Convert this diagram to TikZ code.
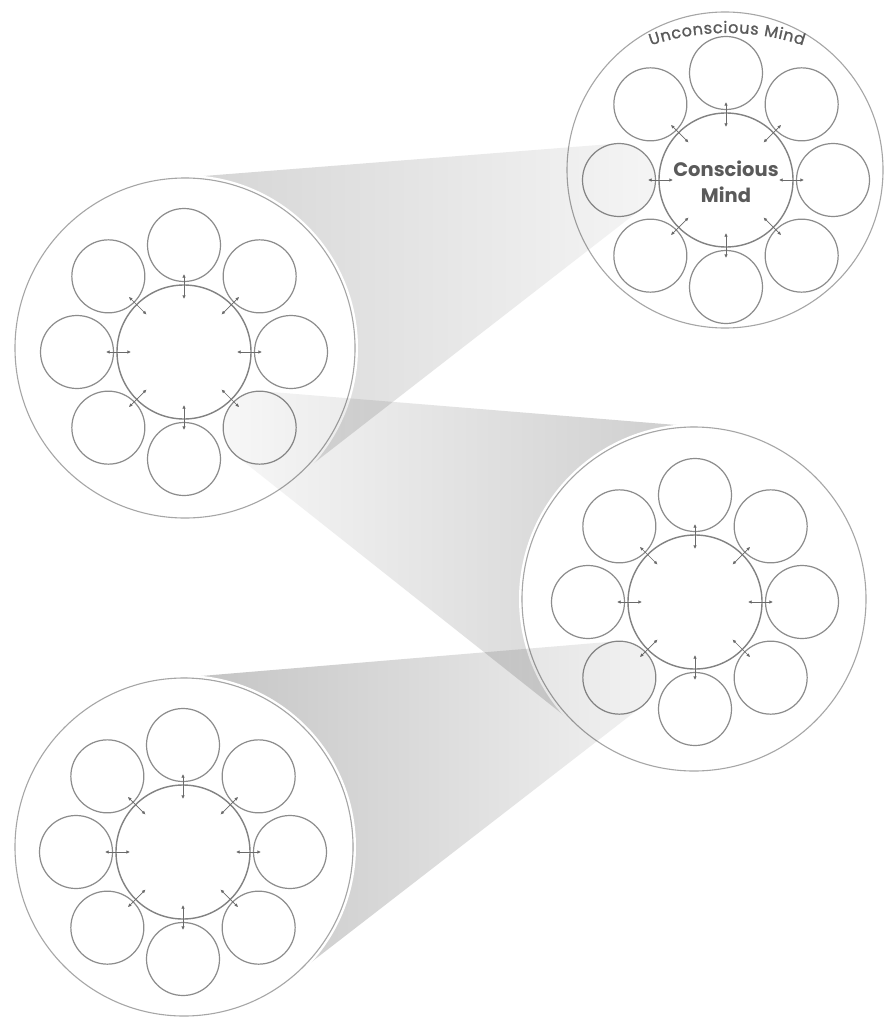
\documentclass[tikz,border=0pt]{standalone}
\usepackage{fontspec}
\newfontfamily\popfont{Poppins}
\newfontfamily\popmed{Poppins}[FakeBold=1.2]
\usetikzlibrary{calc,decorations.text,arrows.meta}
\definecolor{bigline}{HTML}{A6A6A6}
\definecolor{smallline}{HTML}{8C8C8C}
\definecolor{innerline}{HTML}{828282}
\definecolor{arrowc}{HTML}{6A6A6A}
\definecolor{txt}{HTML}{5A5A5A}
\tikzset{
  bigc/.style={circle, draw=bigline, line width=1.1pt, fill=white, inner sep=0pt},
  smallc/.style={circle, draw=smallline, line width=1.2pt, minimum size=73pt, inner sep=0pt},
  innerc/.style={circle, draw=innerline, line width=1.4pt, minimum size=134pt, inner sep=0pt},
  arr/.style={draw=arrowc, line width=0.7pt, {Latex[length=3.6pt,width=3.4pt]}-{Latex[length=3.6pt,width=3.4pt]}},
  halo/.style={draw=white, line width=2.6pt},
  beamfill/.style={blend mode=multiply},
}
\newcommand{\bigdisc}[4]{%
  \draw[halo] (#2,#3) circle[radius=#4+1.7];
  \node[bigc, minimum size=2*#4pt] (#1) at (#2,#3) {};
}
\newcommand{\mindring}[3]{%
  \coordinate (#1) at (#2,#3);
  \node[innerc] (#1c) at (#1) {};
  \foreach \a [count=\i] in {0,45,...,315}{
    \node[smallc] (#1s\i) at ($(#1)+(\a:107)$) {};
    \coordinate (#1p\i) at ($(#1)+(\a:53)$);
    \coordinate (#1q\i) at ($(#1)+(\a:78)$);
    \draw[arr] (#1p\i) -- (#1q\i);
  }
}
% #1,#2 big centre, #3 R, #4,#5 small centre, #6 r, #7 left colour, #8 right colour
\newcommand{\beam}[8]{%
  \pgfmathsetmacro{\bdx}{#4-(#1)}%
  \pgfmathsetmacro{\bdy}{#5-(#2)}%
  \pgfmathsetmacro{\bD}{veclen(\bdx,\bdy)}%
  \pgfmathsetmacro{\bphi}{atan2(\bdy,\bdx)}%
  \pgfmathsetmacro{\bth}{acos((#3-#6)/\bD)}%
  \pgfmathsetmacro{\ba}{\bphi+\bth}%
  \pgfmathsetmacro{\bb}{\bphi-\bth}%
  \shade[beamfill, left color=#7, right color=#8]
    ($(#1,#2)+(\ba:#3)$) -- ($(#4,#5)+(\ba:#6)$)
    arc[start angle=\ba, end angle=\bb, radius=#6]
    -- ($(#1,#2)+(\bb:#3)$) -- cycle;
}
\begin{document}
\begin{tikzpicture}[x=1pt,y=1pt]
\useasboundingbox (0,0) rectangle (888,-1019);
\fill[white] (0,0) rectangle (888,-1019);

% top right circle
\bigdisc{tr}{725}{-170}{158}
\mindring{trr}{726}{-180}
\node[font=\popfont\bfseries\fontsize{19.5}{26}\selectfont, text=txt, align=center] (trtext) at (726,-182) {Conscious\\Mind};
\path[decorate, decoration={text along path, text={|\popmed\fontsize{16}{16}\selectfont|Unconscious Mind}, text align=fit to path, text color=txt}]
  ($(727,-273)+(108.5:240)$) arc[start angle=108.5, end angle=71.5, radius=240];

% beam 1
\beam{185}{-348}{170}{619}{-180}{36.5}{black!17}{black!4}

% middle left
\bigdisc{ml}{185}{-348}{170}
\mindring{mlr}{184}{-352}

% beam 2
\beam{694}{-599}{172}{259.66}{-427.66}{36.5}{black!3}{black!20}

% middle right
\bigdisc{mr}{694}{-599}{172}
\mindring{mrr}{695}{-602}

% beam 3
\beam{184}{-847}{169}{619.34}{-677.66}{36.5}{black!24}{black!5}

% bottom left
\bigdisc{bl}{184}{-847}{169}
\mindring{blr}{183}{-852}
\end{tikzpicture}
\end{document}
